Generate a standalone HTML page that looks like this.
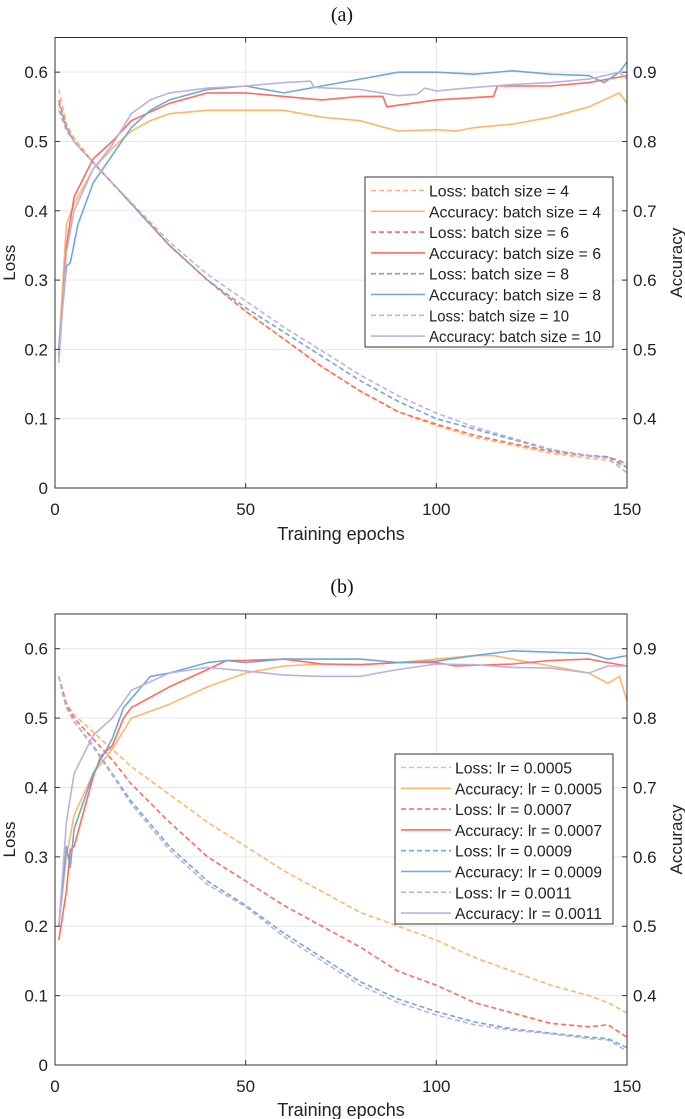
<!DOCTYPE html>
<html><head><meta charset="utf-8">
<style>
html,body{margin:0;padding:0;background:#fff;}
svg{display:block;font-family:"Liberation Sans",sans-serif;}
</style></head>
<body>
<svg id="fig" width="685" height="1119" viewBox="0 0 685 1119"></svg>
<script>
// ---------- Data: panel (a) ----------
const aEpochsLoss = [1,2,3,5,10,15,20,30,40,50,60,70,80,90,100,110,120,130,140,145,150];
const aLossBs4  = [0.575,0.55,0.525,0.505,0.47,0.44,0.41,0.35,0.30,0.255,0.215,0.175,0.14,0.11,0.09,0.073,0.062,0.05,0.043,0.04,0.03];
const aLossBs6  = [0.56,0.54,0.52,0.50,0.47,0.44,0.41,0.35,0.30,0.255,0.215,0.175,0.14,0.11,0.092,0.076,0.064,0.053,0.046,0.045,0.035];
const aLossBs8  = [0.555,0.535,0.52,0.50,0.47,0.44,0.41,0.35,0.30,0.26,0.225,0.19,0.155,0.125,0.10,0.085,0.07,0.055,0.047,0.045,0.03];
const aLossBs10 = [0.545,0.53,0.515,0.50,0.47,0.44,0.412,0.355,0.308,0.27,0.232,0.198,0.163,0.133,0.108,0.088,0.072,0.056,0.046,0.043,0.022];

const aEpochsAcc4 = [1,3,5,10,15,20,25,30,40,50,60,70,80,90,100,105,110,120,130,140,148,150];
const aAccBs4 = [0.5,0.68,0.71,0.76,0.79,0.815,0.83,0.84,0.845,0.845,0.845,0.835,0.83,0.815,0.817,0.815,0.82,0.825,0.835,0.85,0.87,0.855];
const aEpochsAcc6 = [1,3,5,10,12,15,20,30,40,50,60,70,80,86,87,100,115,116,130,140,150];
const aAccBs6 = [0.49,0.65,0.72,0.775,0.785,0.80,0.83,0.855,0.87,0.87,0.865,0.86,0.865,0.865,0.85,0.86,0.865,0.88,0.88,0.885,0.895];
const aEpochsAcc8 = [1,3,4,6,10,15,20,25,30,40,50,60,70,80,90,100,110,120,130,140,144,148,150];
const aAccBs8 = [0.5,0.62,0.625,0.68,0.74,0.78,0.82,0.845,0.86,0.875,0.88,0.87,0.88,0.89,0.90,0.90,0.897,0.902,0.897,0.895,0.885,0.90,0.915];
const aEpochsAcc10 = [1,3,5,10,15,20,25,30,40,50,60,67,68,80,90,95,97,100,110,120,130,140,148,150];
const aAccBs10 = [0.48,0.64,0.70,0.76,0.795,0.84,0.86,0.87,0.877,0.88,0.885,0.887,0.878,0.875,0.866,0.868,0.877,0.873,0.878,0.882,0.885,0.89,0.90,0.89];

// ---------- Data: panel (b) ----------
const bEpochsLoss = [1,2,3,5,10,15,20,30,40,50,60,70,80,90,100,110,120,130,140,145,150];
const bLossLr5  = [0.56,0.54,0.52,0.505,0.48,0.455,0.43,0.39,0.35,0.315,0.28,0.25,0.22,0.20,0.18,0.155,0.135,0.115,0.10,0.09,0.075];
const bLossLr7  = [0.56,0.54,0.52,0.50,0.47,0.44,0.405,0.35,0.30,0.265,0.23,0.20,0.17,0.135,0.115,0.09,0.075,0.06,0.055,0.058,0.04];
const bLossLr9  = [0.56,0.535,0.515,0.495,0.46,0.42,0.38,0.315,0.265,0.23,0.19,0.155,0.12,0.095,0.077,0.062,0.052,0.046,0.04,0.038,0.025];
const bLossLr11 = [0.56,0.535,0.515,0.495,0.458,0.418,0.376,0.31,0.26,0.228,0.185,0.15,0.115,0.09,0.072,0.058,0.05,0.045,0.038,0.036,0.02];

const bEpochsAcc5 = [1,3,5,10,15,20,30,40,50,60,70,80,90,100,110,115,120,130,140,145,148,150];
const bAccLr5 = [0.5,0.6,0.66,0.72,0.755,0.80,0.82,0.845,0.865,0.875,0.878,0.877,0.88,0.885,0.89,0.89,0.885,0.875,0.865,0.85,0.86,0.825];
const bEpochsAcc7 = [1,3,4,5,10,12,15,18,20,30,40,45,50,60,70,80,90,100,105,120,130,140,145,150];
const bAccLr7 = [0.48,0.55,0.61,0.615,0.715,0.745,0.76,0.80,0.815,0.845,0.87,0.883,0.883,0.885,0.878,0.877,0.88,0.88,0.875,0.878,0.883,0.885,0.88,0.875];
const bEpochsAcc9 = [1,3,4,5,10,15,18,25,30,40,45,50,60,70,80,90,100,110,120,130,140,145,150];
const bAccLr9 = [0.5,0.615,0.585,0.64,0.72,0.77,0.815,0.86,0.865,0.88,0.883,0.88,0.885,0.885,0.885,0.88,0.882,0.89,0.897,0.895,0.893,0.885,0.89];
const bEpochsAcc11 = [1,3,5,10,15,20,30,40,50,60,70,80,90,100,110,120,130,140,145,150];
const bAccLr11 = [0.5,0.65,0.72,0.775,0.80,0.84,0.865,0.873,0.868,0.862,0.86,0.86,0.87,0.878,0.877,0.873,0.872,0.865,0.875,0.875];

const xTicks = [0,50,100,150];
const lossTicks = [0,0.1,0.2,0.3,0.4,0.5,0.6];
const accTicks = [0.4,0.5,0.6,0.7,0.8,0.9];

const C = {o:'#FFB66B', r:'#FF6B5E', b:'#6FA8D8', p:'#BDB1E0'};
const NS = 'http://www.w3.org/2000/svg';
const svg = document.getElementById('fig');
function mk(tag, attrs, parent){
  const e = document.createElementNS(NS, tag);
  for (const k in attrs) e.setAttribute(k, attrs[k]);
  (parent||svg).appendChild(e);
  return e;
}

function panel(cfg){
  const L=55, R=627, T=cfg.top, B=cfg.bottom;
  const g = mk('g',{});
  
  
  const xs = v => L + (v/150)*(R-L);
  const ys = v => B - (v/0.65)*(B-T);
  const ya = v => ys(v-0.3);

  const title = mk('text',{x:342,y:cfg.titleY,'text-anchor':'middle','font-size':20,'font-family':'"Liberation Serif",serif',fill:'#111'},g);
  title.textContent = cfg.title;
  
  

  xTicks.forEach(t=>{ if(t>0&&t<150){ const l=mk('line',{x1:xs(t),x2:xs(t),y1:T,y2:B,stroke:'#e6e6e6','stroke-width':1},g);
      }});
  lossTicks.forEach(t=>{ if(t>0){ const l=mk('line',{x1:L,x2:R,y1:ys(t),y2:ys(t),stroke:'#e6e6e6','stroke-width':1},g);
      }});

  cfg.series.forEach(s=>{
    const d = s.x.map((e,i)=>(i?'L':'M')+xs(e).toFixed(1)+','+(s.acc?ya(s.y[i]):ys(s.y[i])).toFixed(1)).join(' ');
    const p = mk('path',{d:d,fill:'none',stroke:s.c,'stroke-width':1.6,'stroke-dasharray':s.acc?'none':'5,3','stroke-linejoin':'round'},g);
    
    
  });

  const box = mk('rect',{x:L,y:T,width:R-L,height:B-T,fill:'none',stroke:'#333','stroke-width':1},g);
  
  

  xTicks.forEach(t=>{
    mk('line',{x1:xs(t),x2:xs(t),y1:B,y2:B-5,stroke:'#333'},g);
    mk('line',{x1:xs(t),x2:xs(t),y1:T,y2:T+5,stroke:'#333'},g);
    const tx = mk('text',{x:xs(t),y:B+27,'text-anchor':'middle','font-size':17,fill:'#222'},g);
    tx.textContent = t;
    
    
  });
  lossTicks.forEach(t=>{
    mk('line',{x1:L,x2:L+5,y1:ys(t),y2:ys(t),stroke:'#333'},g);
    const tx = mk('text',{x:L-7,y:ys(t)+6,'text-anchor':'end','font-size':17,fill:'#222'},g);
    tx.textContent = t===0?'0':t.toFixed(1);
    
    
  });
  accTicks.forEach(t=>{
    mk('line',{x1:R-5,x2:R,y1:ya(t),y2:ya(t),stroke:'#333'},g);
    const tx = mk('text',{x:R+6,y:ya(t)+6,'text-anchor':'start','font-size':17,fill:'#222'},g);
    tx.textContent = t.toFixed(1);
    
    
  });

  const xl = mk('text',{x:(L+R)/2,y:cfg.xlabelY,'text-anchor':'middle','font-size':18,fill:'#222'},g);
  xl.textContent='Training epochs';
  
  
  const yl = mk('text',{x:0,y:0,'text-anchor':'middle','font-size':17,fill:'#222',transform:`translate(15,${(T+B)/2}) rotate(-90)`},g);
  yl.textContent='Loss';
  
  
  const yr = mk('text',{x:0,y:0,'text-anchor':'middle','font-size':17,fill:'#222',transform:`translate(${R+55},${(T+B)/2}) rotate(-90)`},g);
  yr.textContent='Accuracy';
  
  

  const lg = mk('g',{},g);
  
  
  const lx=cfg.legX, ly=cfg.legY, lw=613-cfg.legX, lh=170;
  mk('rect',{x:lx,y:ly,width:lw,height:lh,fill:'#fff',stroke:'#333','stroke-width':1},lg);
  cfg.series.forEach((s,i)=>{
    const yy = ly+13.5+i*20.8;
    const e = mk('g',{},lg);
    
    
    mk('line',{x1:lx+6,x2:lx+6+cfg.swatch,y1:yy,y2:yy,stroke:s.c,'stroke-width':1.6,'stroke-dasharray':s.acc?'none':'5,3'},e);
    const t = mk('text',{x:lx+cfg.swatch+10,y:yy+6,'font-size':16,fill:'#222',textLength:cfg.tl[i%2],lengthAdjust:'spacingAndGlyphs'},e);
    t.textContent = s.label;
  });
}

panel({name:'panel-a-batch-size', title:'(a)', titleY:21, top:37.5, bottom:488, xlabelY:540, legX:365, legY:177, swatch:54, tl:[140,172],
  series:[
    {n:'loss-batch-4',c:C.o,acc:false,x:aEpochsLoss,y:aLossBs4,label:'Loss: batch size = 4'},
    {n:'accuracy-batch-4',c:C.o,acc:true,x:aEpochsAcc4,y:aAccBs4,label:'Accuracy: batch size = 4'},
    {n:'loss-batch-6',c:C.r,acc:false,x:aEpochsLoss,y:aLossBs6,label:'Loss: batch size = 6'},
    {n:'accuracy-batch-6',c:C.r,acc:true,x:aEpochsAcc6,y:aAccBs6,label:'Accuracy: batch size = 6'},
    {n:'loss-batch-8',c:C.b,acc:false,x:aEpochsLoss,y:aLossBs8,label:'Loss: batch size = 8'},
    {n:'accuracy-batch-8',c:C.b,acc:true,x:aEpochsAcc8,y:aAccBs8,label:'Accuracy: batch size = 8'},
    {n:'loss-batch-10',c:C.p,acc:false,x:aEpochsLoss,y:aLossBs10,label:'Loss: batch size = 10'},
    {n:'accuracy-batch-10',c:C.p,acc:true,x:aEpochsAcc10,y:aAccBs10,label:'Accuracy: batch size = 10'}
  ]});

panel({name:'panel-b-learning-rate', title:'(b)', titleY:593, top:614, bottom:1065, xlabelY:1116, legX:395, legY:754, swatch:50, tl:[117,147],
  series:[
    {n:'loss-lr-0005',c:C.o,acc:false,x:bEpochsLoss,y:bLossLr5,label:'Loss: lr = 0.0005'},
    {n:'accuracy-lr-0005',c:C.o,acc:true,x:bEpochsAcc5,y:bAccLr5,label:'Accuracy: lr = 0.0005'},
    {n:'loss-lr-0007',c:C.r,acc:false,x:bEpochsLoss,y:bLossLr7,label:'Loss: lr = 0.0007'},
    {n:'accuracy-lr-0007',c:C.r,acc:true,x:bEpochsAcc7,y:bAccLr7,label:'Accuracy: lr = 0.0007'},
    {n:'loss-lr-0009',c:C.b,acc:false,x:bEpochsLoss,y:bLossLr9,label:'Loss: lr = 0.0009'},
    {n:'accuracy-lr-0009',c:C.b,acc:true,x:bEpochsAcc9,y:bAccLr9,label:'Accuracy: lr = 0.0009'},
    {n:'loss-lr-0011',c:C.p,acc:false,x:bEpochsLoss,y:bLossLr11,label:'Loss: lr = 0.0011'},
    {n:'accuracy-lr-0011',c:C.p,acc:true,x:bEpochsAcc11,y:bAccLr11,label:'Accuracy: lr = 0.0011'}
  ]});
</script>
</body></html>
